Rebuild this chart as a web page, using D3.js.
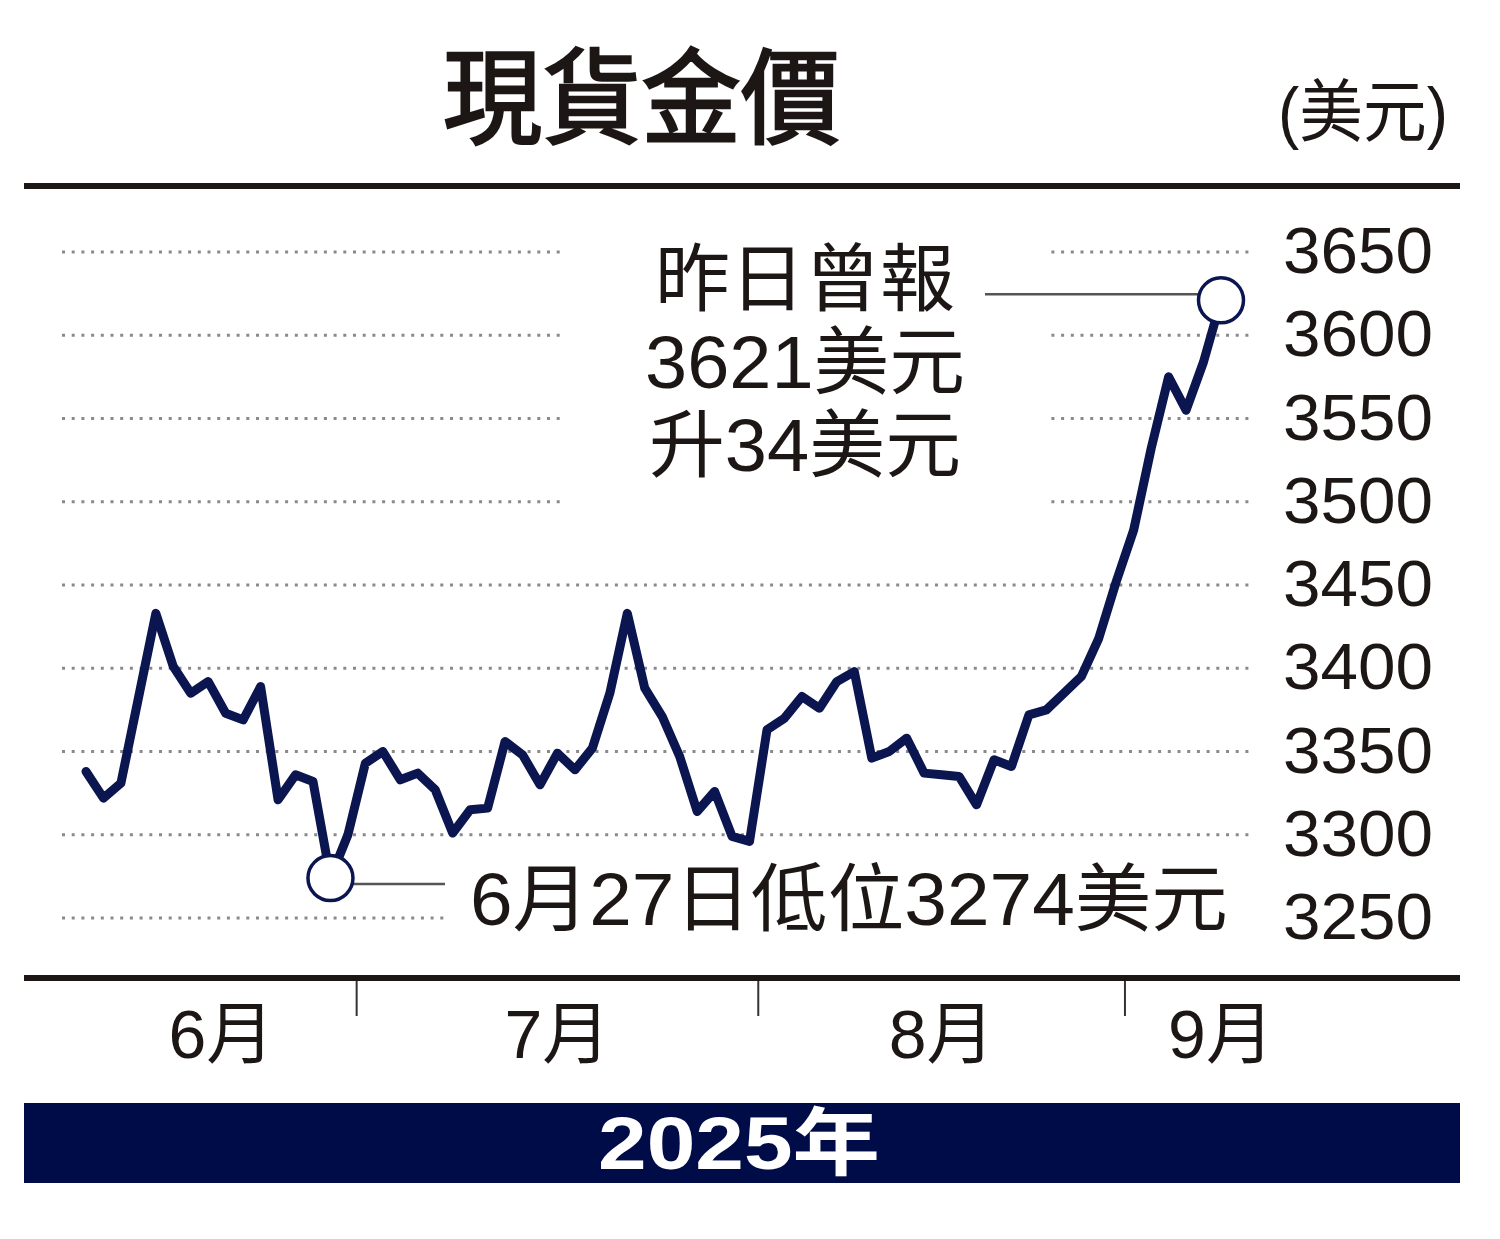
<!DOCTYPE html>
<html>
<head>
<meta charset="utf-8">
<script src="https://cdn.jsdelivr.net/npm/d3@7"></script>
<style>
  html, body { margin: 0; padding: 0; background: #fff; }
  svg { display: block; }
</style>
</head>
<body>
<div id="chart"></div>
<script>
// trading days, 9 Jun - 8 Sep 2025
const dates = [
    '6/9','6/10','6/11','6/12','6/13','6/16','6/17','6/18','6/19','6/20',
    '6/23','6/24','6/25','6/26','6/27','6/30',
    '7/1','7/2','7/3','7/4','7/7','7/8','7/9','7/10','7/11','7/14',
    '7/15','7/16','7/17','7/18','7/21','7/22','7/23','7/24','7/25','7/28',
    '7/29','7/30','7/31',
    '8/1','8/4','8/5','8/6','8/7','8/8','8/11','8/12','8/13','8/14',
    '8/15','8/18','8/19','8/20','8/21','8/22','8/25','8/26','8/27','8/28','8/29',
    '9/1','9/2','9/3','9/4','9/5','9/8'
];
const prices = [
    3338, 3322, 3331, 3382, 3433, 3401, 3385, 3392, 3373, 3369,
    3389, 3321, 3336, 3332, 3274, 3300,
    3343, 3350, 3333, 3337, 3327, 3301, 3315, 3316, 3356, 3348,
    3330, 3349, 3339, 3352, 3385, 3433, 3388, 3371, 3347, 3314,
    3326, 3299, 3296,
    3363, 3370, 3383, 3376, 3392, 3398, 3346, 3350, 3358, 3337,
    3336, 3335, 3318, 3345, 3341, 3372, 3375, 3385, 3395, 3418, 3452,
    3483, 3532, 3575, 3555, 3584, 3621
];
const yTicks = [3250, 3300, 3350, 3400, 3450, 3500, 3550, 3600, 3650];
const monthNames = {6: '6月', 7: '7月', 8: '8月', 9: '9月'};
const title = '現貨金價';
const unit = '(美元)';
const yearLabel = '2025年';
const highNote = ['昨日曾報', '3621美元', '升34美元'];
const lowNote = '6月27日低位3274美元';
const lowIndex = 14;

const W = 1500, H = 1239;
const INK = '#1c1614';
const NAVY = '#0b1550';
const FONT = '"Liberation Sans", "Noto Sans CJK TC", sans-serif';
const CJK = '"Noto Sans CJK TC", sans-serif';

const svg = d3.select('#chart').append('svg')
    .attr('width', W)
    .attr('height', H);

const x = d3.scaleLinear().domain([0, prices.length - 1]).range([86, 1221]);
const y = d3.scaleLinear().domain([3250, 3650]).range([918, 252]);

// title + unit (regular weight thickened a little, bold is too heavy)
svg.append('text')
    .attr('x', 443).attr('y', 136)
    .attr('font-family', CJK)
    .attr('font-weight', 400)
    .attr('font-size', 104)
    .attr('fill', INK)
    .attr('stroke', INK)
    .attr('stroke-width', 2.5)
    .attr('textLength', 397)
    .attr('lengthAdjust', 'spacingAndGlyphs')
    .text(title);

svg.append('text')
    .attr('x', 1278).attr('y', 136)
    .attr('font-family', FONT)
    .attr('font-size', 68)
    .attr('fill', INK)
    .attr('textLength', 170)
    .attr('lengthAdjust', 'spacingAndGlyphs')
    .text(unit);

// top and bottom rules
svg.append('rect').attr('x', 24).attr('y', 183).attr('width', 1436).attr('height', 6).attr('fill', INK);
svg.append('rect').attr('x', 24).attr('y', 975).attr('width', 1436).attr('height', 6).attr('fill', INK);

// dotted grid
svg.append('g')
    .selectAll('line')
    .data(yTicks)
    .enter().append('line')
    .attr('x1', 62).attr('x2', 1250)
    .attr('y1', d => y(d)).attr('y2', d => y(d))
    .attr('stroke', '#8a8a8a')
    .attr('stroke-width', 3)
    .attr('stroke-dasharray', '3 6.7');

// clear the grid behind the notes
svg.append('rect').attr('x', 560).attr('y', 225).attr('width', 485).attr('height', 290).attr('fill', '#fff');
svg.append('rect').attr('x', 446).attr('y', 895).attr('width', 810).attr('height', 45).attr('fill', '#fff');

// y labels
svg.append('g')
    .selectAll('text')
    .data(yTicks)
    .enter().append('text')
    .attr('x', 1283)
    .attr('y', d => y(d) + 21)
    .attr('font-family', FONT)
    .attr('font-size', 64)
    .attr('fill', INK)
    .attr('textLength', 150)
    .attr('lengthAdjust', 'spacingAndGlyphs')
    .text(d => d);

// month ticks and labels
const months = dates.map(d => +d.split('/')[0]);
const bounds = [];
months.forEach((m, i) => { if (i > 0 && m !== months[i - 1]) bounds.push(i - 0.5); });

svg.append('g')
    .selectAll('line')
    .data(bounds)
    .enter().append('line')
    .attr('x1', d => x(d)).attr('x2', d => x(d))
    .attr('y1', 981).attr('y2', 1016)
    .attr('stroke', '#333')
    .attr('stroke-width', 2);

const spans = [];
months.forEach((m, i) => {
    const s = spans[spans.length - 1];
    if (!s || s.m !== m) spans.push({m, first: i, last: i});
    else s.last = i;
});
spans.forEach((s, k) => {
    const lo = Math.max(0, s.first - 0.5);
    const hi = s.last + 0.5;
    // last month is short, label sits under the latest point
    s.pos = k === spans.length - 1 ? s.last : (lo + hi) / 2;
});

svg.append('g')
    .selectAll('text')
    .data(spans)
    .enter().append('text')
    .attr('x', d => x(d.pos))
    .attr('y', 1058)
    .attr('text-anchor', 'middle')
    .attr('font-family', FONT)
    .attr('font-size', 68)
    .attr('fill', INK)
    .text(d => monthNames[d.m]);

// year band
svg.append('rect').attr('x', 24).attr('y', 1103).attr('width', 1436).attr('height', 80).attr('fill', '#000c47');
svg.append('text')
    .attr('x', 739).attr('y', 1169)
    .attr('text-anchor', 'middle')
    .attr('font-family', FONT)
    .attr('font-weight', 700)
    .attr('font-size', 74)
    .attr('fill', '#fff')
    .attr('textLength', 282)
    .attr('lengthAdjust', 'spacingAndGlyphs')
    .text(yearLabel);

// price line
const line = d3.line()
    .x((d, i) => x(i))
    .y(d => y(d));

svg.append('path')
    .datum(prices)
    .attr('d', line)
    .attr('fill', 'none')
    .attr('stroke', NAVY)
    .attr('stroke-width', 9)
    .attr('stroke-linejoin', 'round')
    .attr('stroke-linecap', 'round');

// notes
const last = prices.length - 1;
const hx = x(last), hy = y(prices[last]);
const lx = x(lowIndex), ly = y(prices[lowIndex]);

svg.append('line')
    .attr('x1', 985).attr('x2', hx - 22)
    .attr('y1', hy - 6).attr('y2', hy - 6)
    .attr('stroke', '#555').attr('stroke-width', 2.5);
svg.append('line')
    .attr('x1', lx + 22).attr('x2', 445)
    .attr('y1', ly + 6).attr('y2', ly + 6)
    .attr('stroke', '#555').attr('stroke-width', 2.5);

svg.selectAll('circle.mark')
    .data([[hx, hy], [lx, ly]])
    .enter().append('circle')
    .attr('class', 'mark')
    .attr('cx', d => d[0]).attr('cy', d => d[1])
    .attr('r', 22.5)
    .attr('fill', '#fff')
    .attr('stroke', NAVY)
    .attr('stroke-width', 3.5);

const noteWidths = [300, 320, 312];
svg.append('g')
    .selectAll('text')
    .data(highNote)
    .enter().append('text')
    .attr('x', 805)
    .attr('y', (d, i) => 305 + i * 83)
    .attr('text-anchor', 'middle')
    .attr('font-family', FONT)
    .attr('font-size', 74)
    .attr('fill', INK)
    .attr('textLength', (d, i) => noteWidths[i])
    .attr('lengthAdjust', 'spacingAndGlyphs')
    .text(d => d);

svg.append('text')
    .attr('x', 470).attr('y', 925)
    .attr('font-family', FONT)
    .attr('font-size', 74)
    .attr('fill', INK)
    .attr('textLength', 758)
    .attr('lengthAdjust', 'spacingAndGlyphs')
    .text(lowNote);
</script>
</body>
</html>
